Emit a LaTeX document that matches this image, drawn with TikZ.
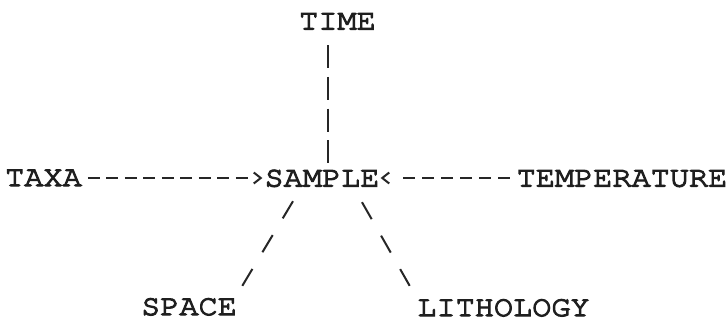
\documentclass[tikz,border=0pt]{standalone}
\usepackage{fontspec}
\newfontfamily\typew[FakeBold=4,FakeStretch=1.1]{texgyrecursor-regular.otf}
\usetikzlibrary{arrows.meta}
\begin{document}
\begin{tikzpicture}[x=1pt,y=-1pt,
  word/.style={inner sep=0pt,text height=17pt,text depth=0pt,text=black!88,
    font={\typew\fontsize{29}{30}\selectfont}},
  ink/.style={line width=2pt,draw=black!85},
  tipg/.style={-{Straight Barb[length=7pt,width=11pt,line width=2pt]}}]
\useasboundingbox[fill=white] (0,0) rectangle (728,322);
\node[word] (TIME) at (337.5,21) {TIME};
\node[word] (TAXA) at (43.5,177.5) {TAXA};
\node[word] (SAMPLE) at (322,178) {SAMPLE};
\node[word] (TEMP) at (622,178) {TEMPERATURE};
\node[word] (SPACE) at (189,306.5) {SPACE};
\node[word] (LITH) at (503.5,307.5) {LITHOLOGY};
% vertical
\draw[ink,dash pattern=on 23pt off 8.67pt]
  ([shift={(-9.5,15.5)}]TIME.south) -- ([shift={(6,-6.5)}]SAMPLE.north);
% left arrow
\draw[ink,tipg,dash pattern=on 12pt off 6.5pt on 12pt off 6.5pt on 12pt off 6.5pt on 12pt off 6.5pt on 12pt off 6.5pt on 12pt off 6.5pt on 12pt off 6.5pt on 12pt off 6.5pt on 12pt off 200pt]
  ([shift={(6,0.5)}]TAXA.east) -- ([shift={(-2,0)}]SAMPLE.west);
% right arrow
\draw[ink,tipg,dash pattern=on 12pt off 7pt on 12pt off 7pt on 12pt off 7pt on 12pt off 7pt on 12pt off 7pt on 12pt off 200pt]
  ([shift={(-7,0)}]TEMP.west) -- ([shift={(1,0)}]SAMPLE.east);
% diagonals
\draw[ink,dash pattern=on 20pt off 19.5pt]
  ([shift={(-29,14.5)}]SAMPLE.south) -- ([shift={(5.25,-12)}]SPACE.north east);
\draw[ink,dash pattern=on 19.5pt off 19pt]
  ([shift={(40,15.5)}]SAMPLE.south) -- ([shift={(-7.5,-13)}]LITH.north west);
\end{tikzpicture}
\end{document}
